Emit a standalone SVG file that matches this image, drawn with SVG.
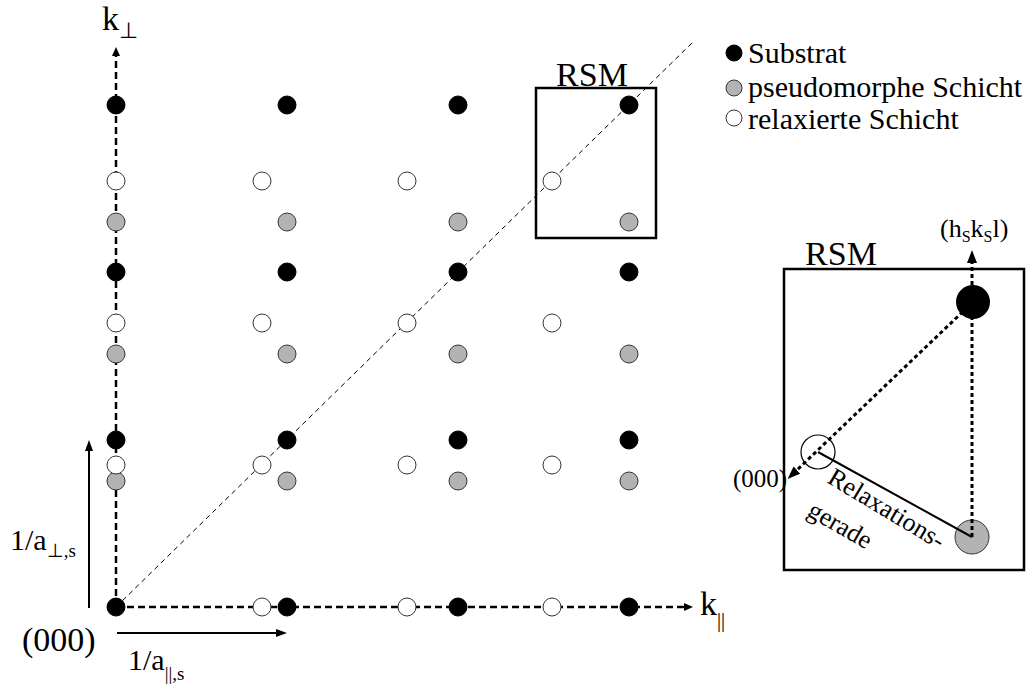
<svg xmlns="http://www.w3.org/2000/svg" width="1030" height="686" viewBox="0 0 1030 686" font-family="Liberation Serif, Times New Roman, serif">
<style>
text{fill:#000}
.sub{fill:#000;stroke:#000;stroke-width:1}
.pse{fill:#b3b3b3;stroke:#333;stroke-width:1}
.rel{fill:#fff;stroke:#333;stroke-width:1}
.axis{stroke:#000;stroke-width:2.5;stroke-dasharray:7 4;fill:none}
.diag{stroke:#000;stroke-width:1;stroke-dasharray:5 4;fill:none}
.solid{stroke:#000;stroke-width:2;fill:none}
.box{fill:none;stroke:#000;stroke-width:2.5}
.dot{stroke:#000;stroke-width:3;stroke-dasharray:4 3;fill:none}
</style>
<defs>
<marker id="ah" markerUnits="userSpaceOnUse" markerWidth="9" markerHeight="8" refX="0" refY="4" orient="auto"><path d="M0,0 L9,4 L0,8 z" fill="#000"/></marker>
<marker id="am" markerUnits="userSpaceOnUse" markerWidth="11" markerHeight="8" refX="0" refY="4" orient="auto"><path d="M0,0 L11,4 L0,8 z" fill="#000"/></marker>
<marker id="ab" markerUnits="userSpaceOnUse" markerWidth="13" markerHeight="10" refX="0" refY="5" orient="auto"><path d="M0,0 L13,5 L0,10 z" fill="#000"/></marker>
</defs>
<g id="connectors">
<line class="diag" x1="116" y1="607" x2="692" y2="43"/>
<line class="axis" x1="116" y1="607" x2="116" y2="56" marker-end="url(#ah)"/>
<line class="axis" x1="116" y1="607" x2="684" y2="607" marker-end="url(#ah)"/>
<line class="solid" x1="89" y1="608" x2="89" y2="451" marker-end="url(#am)"/>
<line class="solid" x1="117" y1="633" x2="276" y2="633" marker-end="url(#am)"/>
</g>
<g id="substrat-lattice">
<circle class="sub" cx="116" cy="105" r="9"/><circle class="sub" cx="287" cy="105" r="9"/><circle class="sub" cx="458" cy="105" r="9"/><circle class="sub" cx="629" cy="105" r="9"/>
<circle class="sub" cx="116" cy="272" r="9"/><circle class="sub" cx="287" cy="272" r="9"/><circle class="sub" cx="458" cy="272" r="9"/><circle class="sub" cx="629" cy="272" r="9"/>
<circle class="sub" cx="116" cy="440" r="9"/><circle class="sub" cx="287" cy="440" r="9"/><circle class="sub" cx="458" cy="440" r="9"/><circle class="sub" cx="629" cy="440" r="9"/>
<circle class="sub" cx="287" cy="607" r="9"/><circle class="sub" cx="458" cy="607" r="9"/><circle class="sub" cx="629" cy="607" r="9"/>
</g>
<g id="pseudomorph-lattice">
<circle class="pse" cx="116" cy="222" r="9"/><circle class="pse" cx="287" cy="222" r="9"/><circle class="pse" cx="458" cy="222" r="9"/><circle class="pse" cx="629" cy="222" r="9"/>
<circle class="pse" cx="116" cy="354" r="9"/><circle class="pse" cx="287" cy="354" r="9"/><circle class="pse" cx="458" cy="354" r="9"/><circle class="pse" cx="629" cy="354" r="9"/>
<circle class="pse" cx="116" cy="481" r="9"/><circle class="pse" cx="287" cy="481" r="9"/><circle class="pse" cx="458" cy="481" r="9"/><circle class="pse" cx="629" cy="481" r="9"/>
</g>
<g id="relaxed-lattice">
<circle class="rel" cx="116" cy="181" r="9"/><circle class="rel" cx="262" cy="181" r="9"/><circle class="rel" cx="407" cy="181" r="9"/><circle class="rel" cx="552" cy="181" r="9"/>
<circle class="rel" cx="116" cy="323" r="9"/><circle class="rel" cx="262" cy="323" r="9"/><circle class="rel" cx="407" cy="323" r="9"/><circle class="rel" cx="552" cy="323" r="9"/>
<circle class="rel" cx="116" cy="465" r="9"/><circle class="rel" cx="262" cy="465" r="9"/><circle class="rel" cx="407" cy="465" r="9"/><circle class="rel" cx="552" cy="465" r="9"/>
<circle class="rel" cx="262" cy="607" r="9"/><circle class="rel" cx="407" cy="607" r="9"/><circle class="rel" cx="552" cy="607" r="9"/>
</g>
<g id="origin"><circle class="sub" cx="116" cy="607" r="9"/></g>
<g id="axis-labels">
<text x="102" y="30" font-size="34">k<tspan font-size="22" dy="8">⊥</tspan></text>
<text x="700" y="615" font-size="34">k<tspan font-size="20" dy="12">||</tspan></text>
<text x="22" y="651" font-size="34">(000)</text>
<text x="10" y="550" font-size="30">1/a<tspan font-size="19" dy="7">⊥,s</tspan></text>
<text x="128" y="670" font-size="30">1/a<tspan font-size="19" dy="10">||,s</tspan></text>
</g>
<g id="rsm-small">
<rect class="box" x="536" y="88" width="120" height="150" stroke-width="2"/>
<text x="592" y="86" font-size="34" text-anchor="middle">RSM</text>
</g>
<g id="legend">
<circle class="sub" cx="734" cy="53" r="8"/>
<text x="748" y="63" font-size="30">Substrat</text>
<circle class="pse" cx="734" cy="88" r="8"/>
<text x="748" y="97" font-size="30">pseudomorphe Schicht</text>
<circle class="rel" cx="734" cy="118" r="8"/>
<text x="748" y="129" font-size="30">relaxierte Schicht</text>
</g>
<g id="rsm-detail">
<rect class="box" x="784" y="269" width="240" height="301"/>
<text x="841" y="265" font-size="34" text-anchor="middle">RSM</text>
<circle cx="973" cy="302" r="17" fill="#000"/>
<circle cx="972" cy="537" r="17" fill="#b3b3b3" stroke="#333" stroke-width="1"/>
<circle cx="818" cy="452" r="17" fill="none" stroke="#000" stroke-width="1.2"/>
<line class="dot" x1="972" y1="537" x2="972" y2="263" marker-end="url(#ab)"/>
<line class="dot" x1="973" y1="302" x2="797" y2="470" stroke-width="2.5" marker-end="url(#ab)"/>
<line class="solid" x1="818" y1="452" x2="972" y2="537"/>
<text x="940" y="237" font-size="26">(h<tspan font-size="16" dy="5">S</tspan><tspan dy="-5">k</tspan><tspan font-size="16" dy="5">S</tspan><tspan dy="-5">l)</tspan></text>
<text x="733" y="487" font-size="25">(000)</text>
<text transform="translate(826,482) rotate(31)" font-size="26">Relaxations-</text>
<text transform="translate(806,515) rotate(30)" font-size="26">gerade</text>
</g>
</svg>
